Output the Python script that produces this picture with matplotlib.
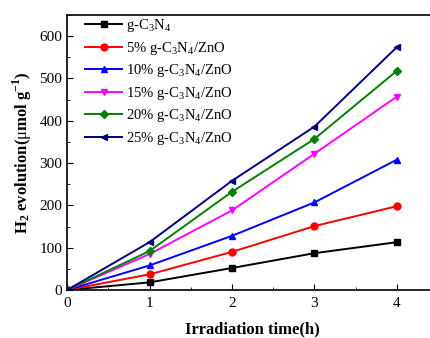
import matplotlib
matplotlib.use('Agg')
import matplotlib.pyplot as plt
from matplotlib.ticker import MultipleLocator

plt.rcParams['font.family'] = ['Liberation Serif', 'DejaVu Serif']
plt.rcParams['mathtext.fontset'] = 'custom'
plt.rcParams['mathtext.rm'] = 'Liberation Serif'
plt.rcParams['mathtext.bf'] = 'Liberation Serif:bold'

time_h = [0, 1, 2, 3, 4]
g_c3n4 = [0, 18, 52, 87, 113]
zno_5 = [0, 37, 90, 151, 198]
zno_10 = [0, 58, 128, 207, 308]
zno_15 = [0, 85, 188, 322, 457]
zno_20 = [0, 92, 232, 357, 518]
zno_25 = [0, 113, 258, 386, 574]

labels = ['g-C$_3$N$_4$', '5% g-C$_3$N$_4$/ZnO', '10% g-C$_3$N$_4$/ZnO',
          '15% g-C$_3$N$_4$/ZnO', '20% g-C$_3$N$_4$/ZnO', '25% g-C$_3$N$_4$/ZnO']
series = [g_c3n4, zno_5, zno_10, zno_15, zno_20, zno_25]
colors = ['black', 'red', 'blue', 'magenta', 'green', 'navy']
markers = ['s', 'o', '^', 'v', 'D', '<']

fig = plt.figure(figsize=(4.3, 3.38), dpi=100)
ax = fig.add_axes([0.156, 0.142, 0.863, 0.814])

for vals, lab, c, m in zip(series, labels, colors, markers):
    ms = 4 if m == 'D' else 5
    ax.plot(time_h, vals, color=c, marker=m, markersize=ms, linewidth=1.4, label=lab)

ax.set_xlim(0, 4.5)
ax.set_ylim(0, 650)
ax.xaxis.set_major_locator(MultipleLocator(1))
ax.xaxis.set_minor_locator(MultipleLocator(0.5))
ax.yaxis.set_major_locator(MultipleLocator(100))
ax.yaxis.set_minor_locator(MultipleLocator(50))
ax.tick_params(which='both', direction='in', labelsize=11)
ax.tick_params(which='major', length=4)
ax.tick_params(which='minor', length=2.5)
ax.tick_params(axis='x', pad=5)
for s in ax.spines.values():
    s.set_linewidth(1.2)

ax.set_xlabel('Irradiation time(h)', fontsize=12, fontweight='bold', labelpad=8)
ax.set_ylabel(r'$\mathbf{H_2}$ evolution($\mathrm{\mu}$mol g$^{\mathbf{-1}}$)',
              fontsize=12, fontweight='bold')

ax.legend(loc='upper left', bbox_to_anchor=(0.022, 1.029), frameon=False,
          fontsize=10.5, handlelength=2.5, labelspacing=0.38,
          borderaxespad=0.3, handletextpad=0.3)

fig.savefig('out.png', dpi=100)
